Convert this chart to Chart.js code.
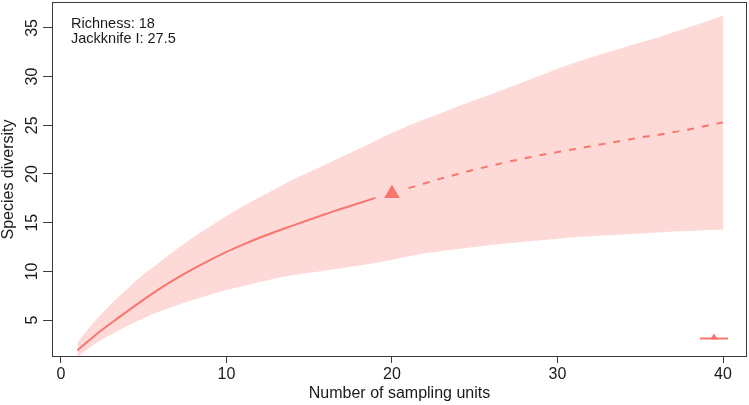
<!DOCTYPE html>
<html>
<head>
<meta charset="utf-8">
<script src="https://cdn.jsdelivr.net/npm/chart.js@4/dist/chart.umd.min.js"></script>
<style>
html,body{margin:0;padding:0;background:#fff;}
canvas{display:block;}
</style>
</head>
<body>
<canvas id="c" width="749" height="405"></canvas>
<script>
// ---- data ----
const samplingUnits = [1,2,3,4,5,6,7,8,9,10,11,12,13,14,15,16,17,18,19,20,
                       21,22,23,24,25,26,27,28,29,30,31,32,33,34,35,36,37,38,39,40];
const diversityMean = [1.9,3.35,4.65,5.9,7.1,8.25,9.3,10.25,11.15,12.0,12.75,13.45,14.1,14.7,15.3,15.9,16.45,17.0,17.55,18.0,
                       18.55,19.05,19.55,20.0,20.45,20.85,21.25,21.6,21.95,22.25,22.55,22.85,23.15,23.45,23.75,24.0,24.3,24.6,24.95,25.3];
const diversityUpper = [2.7,4.8,6.6,8.2,9.7,11.0,12.3,13.5,14.6,15.7,16.7,17.6,18.5,19.4,20.2,21.0,21.8,22.6,23.4,24.2,
                        24.95,25.65,26.3,26.95,27.6,28.2,28.85,29.5,30.15,30.8,31.4,31.95,32.5,33.0,33.5,34.0,34.55,35.1,35.65,36.25];
const diversityLower = [1.2,2.5,3.5,4.4,5.2,5.9,6.5,7.1,7.6,8.1,8.5,8.9,9.3,9.6,9.85,10.1,10.35,10.6,10.85,11.2,
                        11.55,11.85,12.1,12.3,12.5,12.7,12.9,13.05,13.2,13.35,13.5,13.6,13.7,13.8,13.9,14.0,14.1,14.15,14.25,14.3];
const observedUnits = 20;
const observedRichness = 18;
const jackknifeEstimate = 27.5;
const xTickValues = [0,10,20,30,40];
const yTickValues = [5,10,15,20,25,30,35];
const xAxisLabel = "Number of sampling units";
const yAxisLabel = "Species diversity";

// ---- derived tables ----
const pts = (ys) => samplingUnits.map((x,i) => ({x:x, y:ys[i]}));
const rarefied = pts(diversityMean).filter(p => p.x < observedUnits);
const extrapolated = pts(diversityMean).filter(p => p.x > observedUnits);

const RED = '#F8766D';
const FONT = '"Liberation Sans", Arial, Helvetica, sans-serif';

const framePlugin = {
  id: 'frame',
  afterDraw(chart) {
    const ctx = chart.ctx, a = chart.chartArea;
    ctx.save();
    // plot box
    ctx.strokeStyle = '#3a3a3a';
    ctx.lineWidth = 1;
    ctx.strokeRect(Math.round(a.left)+0.5, Math.round(a.top)+0.5,
                   Math.round(a.right-a.left)-1, Math.round(a.bottom-a.top)-1);
    // annotation text
    ctx.fillStyle = '#1a1a1a';
    ctx.font = '14.5px ' + FONT;
    ctx.textAlign = 'left';
    ctx.textBaseline = 'alphabetic';
    ctx.fillText('Richness: ' + observedRichness, a.left + 19, a.top + 26);
    ctx.fillText('Jackknife I: ' + jackknifeEstimate, a.left + 19, a.top + 41);
    // legend key (bottom right)
    const ly = a.bottom - 18.5;
    ctx.strokeStyle = RED;
    ctx.lineWidth = 2;
    ctx.beginPath();
    ctx.moveTo(a.right - 47, ly);
    ctx.lineTo(a.right - 19, ly);
    ctx.stroke();
    ctx.fillStyle = RED;
    const cx = a.right - 33;
    ctx.beginPath();
    ctx.moveTo(cx, ly - 5);
    ctx.lineTo(cx + 4, ly + 1);
    ctx.lineTo(cx - 4, ly + 1);
    ctx.closePath();
    ctx.fill();
    ctx.restore();
  }
};

new Chart(document.getElementById('c'), {
  type: 'line',
  data: {
    datasets: [
      { data: pts(diversityUpper), borderWidth: 0, pointRadius: 0, fill: '+1',
        cubicInterpolationMode: 'monotone',
        backgroundColor: 'rgba(248,118,109,0.27)', borderColor: 'rgba(0,0,0,0)', order: 5 },
      { data: pts(diversityLower), borderWidth: 0, pointRadius: 0, fill: false,
        cubicInterpolationMode: 'monotone',
        borderColor: 'rgba(0,0,0,0)', order: 5 },
      { data: rarefied, borderColor: RED, borderWidth: 2, pointRadius: 0, fill: false,
        cubicInterpolationMode: 'monotone', order: 1 },
      { data: extrapolated, borderColor: RED, borderWidth: 2, borderDash: [7,8], pointRadius: 0, fill: false,
        cubicInterpolationMode: 'monotone', order: 1 },
      { data: [{x: observedUnits, y: observedRichness}], showLine: false, pointStyle: 'triangle',
        pointRadius: 9, pointBackgroundColor: RED, pointBorderColor: RED, pointBorderWidth: 0, order: 0 }
    ]
  },
  options: {
    responsive: false,
    devicePixelRatio: 1,
    animation: false,
    events: [],
    layout: { autoPadding: false, padding: { top: 2, right: 2, left: 0, bottom: 0 } },
    plugins: { legend: { display: false }, tooltip: { enabled: false } },
    scales: {
      x: {
        type: 'linear', position: 'bottom', min: -0.54, max: 41.45,
        afterBuildTicks: s => { s.ticks = xTickValues.map(v => ({value: v})); },
        afterFit: s => { s.height = 48; s.paddingLeft = 0; s.paddingRight = 0; },
        border: { display: false },
        grid: { drawOnChartArea: false, drawTicks: true, tickLength: 6, color: '#3a3a3a', lineWidth: 1 },
        ticks: { padding: 1.5, color: '#1a1a1a', font: { family: FONT, size: 16 }, maxRotation: 0, minRotation: 0 },
        title: { display: true, text: xAxisLabel, color: '#1a1a1a',
                 font: { family: FONT, size: 16, lineHeight: 1.1 }, padding: { top: 0, bottom: 3 } }
      },
      y: {
        type: 'linear', position: 'left', min: 1.21, max: 37.66,
        afterBuildTicks: s => { s.ticks = yTickValues.map(v => ({value: v})); },
        afterFit: s => { s.width = 52; s.paddingTop = 0; s.paddingBottom = 0; },
        border: { display: false },
        grid: { drawOnChartArea: false, drawTicks: true, tickLength: 9, color: '#3a3a3a', lineWidth: 1 },
        ticks: { padding: 2, color: '#1a1a1a', font: { family: FONT, size: 16 },
                 minRotation: 90, maxRotation: 90, crossAlign: 'center' },
        title: { display: true, text: yAxisLabel, color: '#1a1a1a',
                 font: { family: FONT, size: 16, lineHeight: 1.1 }, padding: { top: 0, bottom: 0 } }
      }
    }
  },
  plugins: [framePlugin]
});
</script>
</body>
</html>
